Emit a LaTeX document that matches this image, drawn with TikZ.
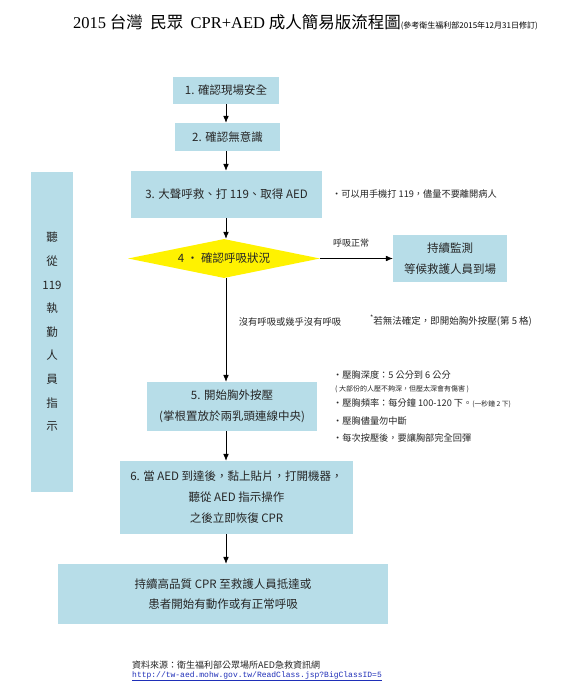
\documentclass[tikz,border=0pt]{standalone}
\usepackage{fontspec}
\setmainfont{Noto Sans CJK TC}
\newfontfamily\serifttl{Liberation Serif}
\newfontfamily\urlfont{Liberation Mono}
\usetikzlibrary{arrows.meta,positioning,shapes.geometric}
\definecolor{boxblue}{HTML}{B7DDE8}
\definecolor{txtgray}{HTML}{262626}
\definecolor{linkblue}{HTML}{1F2FB8}

\begin{document}
\begin{tikzpicture}[x=1pt,y=-1pt,>=Latex,
  stepbox/.style={fill=boxblue,align=center,text=txtgray,font=\fontsize{11.5}{21}\selectfont,inner sep=0pt},
  note/.style={anchor=west,inner sep=0pt,text=txtgray,font=\fontsize{9.2}{11}\selectfont},
  tiny/.style={font=\fontsize{7}{8}\selectfont},
  flow/.style={-{Latex[length=2.4mm,width=2mm]},line width=0.8pt}]
\fill[white] (0,0) rectangle (572,700);
\useasboundingbox (0,0) rectangle (572,700);
\coordinate (spine) at (226,0);

% title
\node[anchor=west,inner sep=0pt] (title) at (73,22) {\fontsize{16.5}{18}\selectfont{\serifttl 2015} 台灣\ \ 民眾\ \ {\serifttl CPR+AED} 成人簡易版流程圖\fontsize{8}{9}\selectfont(參考衛生福利部2015年12月31日修訂)};

% main steps
\node[stepbox,minimum width=106pt,minimum height=27pt] (b1) at (226,90.5) {1. 確認現場安全};
\node[stepbox,minimum width=105pt,minimum height=28pt] (b2) at (227.5,137) {2. 確認無意識};
\node[stepbox,minimum width=191pt,minimum height=47pt] (b3) at (226.5,194.5) {3. 大聲呼救、打 119、取得 AED};
\node[diamond,aspect=4.9,fill=yellow,inner sep=0pt,minimum width=192pt,minimum height=39pt,text=txtgray,font=\fontsize{11.5}{14}\selectfont] (d4) at (224,258.5) {4 · 確認呼吸狀況};
\node[stepbox,minimum width=114pt,minimum height=47pt] (mon) at (450,258.5) {持續監測\\等候救護人員到場};
\node[stepbox,minimum width=170pt,minimum height=49pt] (b5) at (232,406.5) {5. 開始胸外按壓\\(掌根置放於兩乳頭連線中央)};
\node[stepbox,minimum width=233pt,minimum height=73pt] (b6) at (236.5,497.5) {6. 當 AED 到達後，黏上貼片，打開機器，\\聽從 AED 指示操作\\之後立即恢復 CPR};
\node[stepbox,minimum width=330pt,minimum height=60pt,font=\fontsize{11.5}{19.5}\selectfont] (b7) at (223,594) {持續高品質\ CPR\ 至救護人員抵達或\\患者開始有動作或有正常呼吸};
\node[stepbox,minimum width=42pt,minimum height=320pt,font=\fontsize{11.5}{23.6}\selectfont] (side) at (52,332) {聽\\從\\119\\執\\勤\\人\\員\\指\\示};

% connectors
\draw[flow] (b1.south -| spine) -- (b2.north -| spine);
\draw[flow] (b2.south -| spine) -- (b3.north -| spine);
\draw[flow] (b3.south -| spine) -- (d4.north -| spine);
\draw[flow] (d4.south -| spine) -- (b5.north -| spine);
\draw[flow] (b5.south -| spine) -- (b6.north -| spine);
\draw[flow] (b6.south -| spine) -- (b7.north -| spine);
\draw[flow] (d4.east) -- (mon.west);

% labels and notes
\node[inner sep=0pt,text=txtgray,font=\fontsize{9}{11}\selectfont] (lnormal) at (351,243) {呼吸正常};
\node[inner sep=0pt,text=txtgray,font=\fontsize{9.3}{11}\selectfont] (lnone) at (290,322) {沒有呼吸或幾乎沒有呼吸};
\node[note,font=\fontsize{9.5}{11}\selectfont] (nunsure) at (370,321) {\raisebox{4pt}{\fontsize{7}{8}\selectfont*}若無法確定，即開始胸外按壓(第 5 格)};
\node[note] (nphone) at (332,194) {·可以用手機打 119，儘量不要離開病人};
\node[note] (ndepth) at (333,375) {·壓胸深度：5 公分到 6 公分};
\node[note,tiny] (ndeep) at (335,389) {(\ 大部份的人壓不夠深，但壓太深會有傷害\ )};
\node[note] (nrate) at (333,403) {·壓胸頻率：每分鐘 100-120 下。{\fontsize{6.8}{8}\selectfont(一秒鐘 2 下)}};
\node[note] (nstop) at (333,421) {·壓胸儘量勿中斷};
\node[note] (nrecoil) at (333,438) {·每次按壓後，要讓胸部完全回彈};

% source
\node[anchor=west,inner sep=0pt,text=txtgray,font=\fontsize{9}{11}\selectfont] (src) at (132,665) {資料來源：衛生福利部公眾場所AED急救資訊網};
\node[anchor=west,inner sep=0pt,text=linkblue,font=\urlfont\fontsize{8}{10}\selectfont] (url) at (132,676) {\underline{http://tw-aed.mohw.gov.tw/ReadClass.jsp?BigClassID=5}};
\end{tikzpicture}
\end{document}
